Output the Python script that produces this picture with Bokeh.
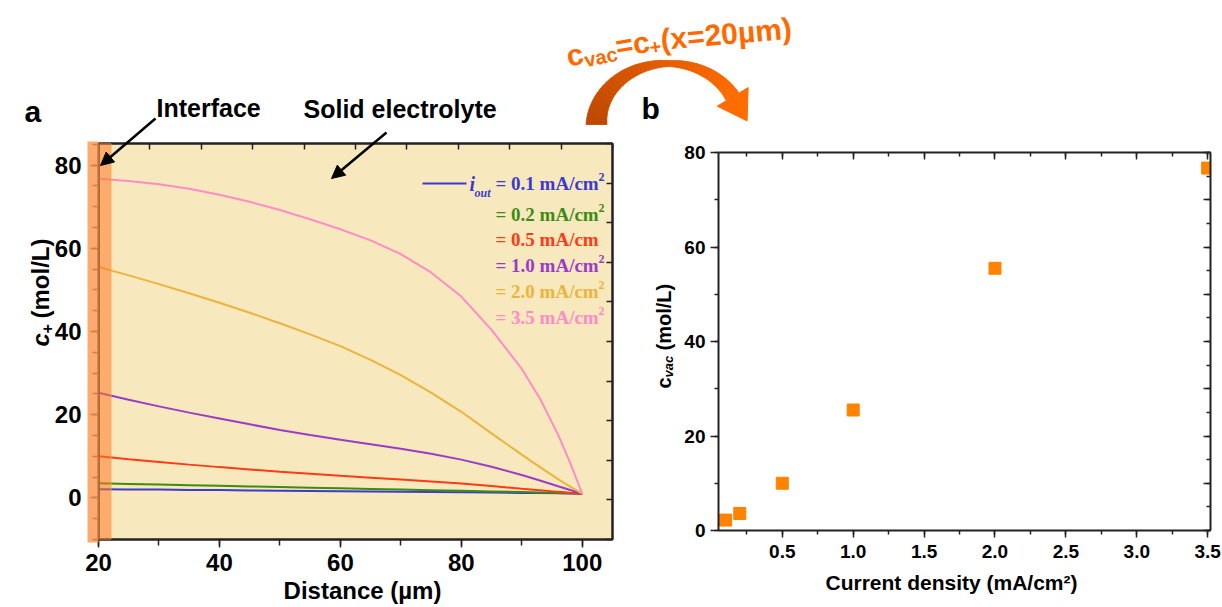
import numpy as np
from bokeh.plotting import figure
from bokeh.layouts import row, column
from bokeh.models import (Range1d, LinearAxis, SingleIntervalTicker, FixedTicker,
                          BoxAnnotation, Arrow, NormalHead, NumeralTickFormatter)
from bokeh.core.properties import value
from bokeh.embed import file_html
from bokeh.resources import INLINE

# ---------------- data ----------------
distance = [20, 25, 30, 35, 40, 45, 50, 55, 60, 65, 70, 75, 80, 85, 90, 93, 96, 98, 100]
c_i01 = [2.1, 2.05, 2.0, 1.93, 1.87, 1.8, 1.74, 1.68, 1.62, 1.56, 1.5, 1.43, 1.36, 1.28,
         1.2, 1.15, 1.09, 1.05, 1.0]
c_i02 = [3.5, 3.35, 3.2, 3.05, 2.9, 2.75, 2.6, 2.45, 2.3, 2.15, 2.0, 1.85, 1.7, 1.55,
         1.4, 1.3, 1.2, 1.1, 1.0]
c_i05 = [10.0, 9.3, 8.65, 8.0, 7.4, 6.85, 6.3, 5.8, 5.3, 4.85, 4.4, 3.95, 3.45, 2.85,
         2.2, 1.85, 1.45, 1.22, 1.0]
c_i10 = [25.3, 23.6, 22.0, 20.5, 19.1, 17.7, 16.3, 15.1, 14.0, 12.9, 11.8, 10.6, 9.2, 7.5,
         5.5, 4.2, 2.8, 1.9, 1.0]
c_i20 = [55.5, 53.5, 51.4, 49.2, 46.9, 44.5, 42.0, 39.3, 36.5, 33.2, 29.5, 25.3, 20.7, 15.5,
         10.4, 7.4, 4.5, 2.7, 1.0]
c_i35 = [76.7, 76.2, 75.4, 74.3, 72.9, 71.2, 69.2, 67.0, 64.6, 61.9, 58.6, 54.2, 48.4, 40.4,
         31.0, 23.9, 15.2, 8.4, 1.0]
series_values = [c_i01, c_i02, c_i05, c_i10, c_i20, c_i35]
series_colors = ["#3b3bd0", "#3c8c14", "#ff3a14", "#9a3cc8", "#ecb43c", "#ff8cc6"]
legend_texts = ["= 0.1 mA/cm", "= 0.2 mA/cm", "= 0.5 mA/cm", "= 1.0 mA/cm",
                "= 2.0 mA/cm", "= 3.5 mA/cm"]
legend_sup = ["2", "2", "", "2", "2", "2"]

current_density = [0.1, 0.2, 0.5, 1.0, 2.0, 3.5]
c_vac = [2.2, 3.6, 10.0, 25.5, 55.5, 76.7]

SANS_NAME = "Liberation Sans"
SANS = value(SANS_NAME)
SERIF = value("Liberation Serif")
AXC = "#222222"


def style_axis(ax, label_size, tick_out, minor_out, tick_in=0, minor_in=0, labels=True):
    ax.axis_line_color = AXC
    ax.axis_line_width = 2
    ax.major_tick_line_color = AXC
    ax.minor_tick_line_color = AXC
    ax.major_tick_line_width = 1.5
    ax.minor_tick_line_width = 1.5
    ax.major_tick_in = tick_in
    ax.major_tick_out = tick_out
    ax.minor_tick_in = minor_in
    ax.minor_tick_out = minor_out
    ax.axis_label = None
    if labels:
        ax.major_label_text_font = SANS_NAME
        ax.major_label_text_font_style = "bold"
        ax.major_label_text_font_size = f"{label_size}px"
        ax.major_label_text_color = "black"
    else:
        ax.major_label_text_color = None


# ---------------- panel a ----------------
p1 = figure(width=640, height=607, x_range=Range1d(20, 105), y_range=Range1d(-10, 85.2),
            output_backend="svg", toolbar_location=None,
            min_border_left=98, min_border_right=28, min_border_top=143, min_border_bottom=68,
            background_fill_color="#f8e8bd", border_fill_color="white",
            outline_line_color=AXC, outline_line_width=2)
p1.grid.visible = False

band = BoxAnnotation(left=20, right=22.05, fill_color="#ff7a2a", fill_alpha=0.55,
                     line_color="#f9a040", line_alpha=0.8, line_width=1)
p1.add_layout(band)

for vals, col in zip(series_values, series_colors):
    p1.line(distance, vals, line_color=col, line_width=2)

xa = p1.xaxis[0]
xa.ticker = SingleIntervalTicker(interval=20, num_minor_ticks=2)
style_axis(xa, 24, 8, 6)
xa.major_label_standoff = 6
ya = p1.yaxis[0]
ya.ticker = SingleIntervalTicker(interval=20, num_minor_ticks=4)
style_axis(ya, 24, 8, 6)
ya.major_label_standoff = 9

top_a = LinearAxis(ticker=FixedTicker(ticks=list(np.linspace(20, 105, 11))))
right_a = LinearAxis(ticker=FixedTicker(ticks=list(np.linspace(-10, 85.2, 11))))
for ax in (top_a, right_a):
    style_axis(ax, 0, 0, 0, tick_in=6, labels=False)
p1.add_layout(top_a, "above")
p1.add_layout(right_a, "right")

# ---------------- panel b ----------------
# same top/bottom borders as panel a (row aligns frames); vertical offset via margin
p2 = figure(width=582, height=589, x_range=Range1d(0.05, 3.52), y_range=Range1d(0, 80),
            output_backend="svg", toolbar_location=None,
            min_border_left=78, min_border_right=12, min_border_top=143, min_border_bottom=68,
            background_fill_color="white", border_fill_color="white", outline_line_color=None)
p2.margin = (9, 0, 0, 0)
p2.grid.visible = False
p2.scatter(current_density, c_vac, marker="square", size=12, fill_color="#ff8200",
           line_color="#ff8200")

xb = p2.xaxis[0]
xb.ticker = SingleIntervalTicker(interval=0.5, num_minor_ticks=2)
xb.formatter = NumeralTickFormatter(format="0.0")
style_axis(xb, 19, 7, 4)
xb.major_label_standoff = 7
yb = p2.yaxis[0]
yb.ticker = SingleIntervalTicker(interval=20, num_minor_ticks=2)
style_axis(yb, 19, 8, 4)
yb.major_label_standoff = 5

top_b = LinearAxis(ticker=SingleIntervalTicker(interval=0.5, num_minor_ticks=2))
right_b = LinearAxis(ticker=SingleIntervalTicker(interval=10, num_minor_ticks=2))
for ax in (top_b, right_b):
    style_axis(ax, 0, 0, 0, tick_in=7, minor_in=4, labels=False)
p2.add_layout(top_b, "above")
p2.add_layout(right_b, "right")

# ---------------- overlay (page-wide annotations, pixel coordinates) ----------------
p0 = figure(width=1222, height=607, x_range=Range1d(0, 1222), y_range=Range1d(607, 0),
            x_axis_type=None, y_axis_type=None, output_backend="svg", toolbar_location=None,
            min_border=0, background_fill_color=None, border_fill_color=None,
            outline_line_color=None)
p0.grid.visible = False
p0.margin = (-607, 0, 0, 0)


def txt(x, y, s, size, color="black", style="bold", font=SANS, align="left",
        baseline="middle", angle=0.0):
    p0.text(x=[x], y=[y], text=[s], text_font=font, text_font_style=style,
            text_font_size=f"{size}px", text_color=color, text_align=align,
            text_baseline=baseline, angle=angle)


# interface band continuing left of the axis
p0.quad(left=[87], right=[98], top=[141], bottom=[542], fill_color="#fb954c",
        fill_alpha=0.8, line_color=None)

# panel letters and annotations
txt(24, 111, "a", 30)
txt(641, 108, "b", 30)
txt(156, 107, "Interface", 25)
txt(303, 108, "Solid electrolyte", 25)
p0.add_layout(Arrow(end=NormalHead(size=13, fill_color="black", line_color="black"),
                    x_start=155, y_start=118, x_end=100, y_end=165,
                    line_color="black", line_width=2.5))
p0.add_layout(Arrow(end=NormalHead(size=13, fill_color="black", line_color="black"),
                    x_start=386, y_start=132, x_end=331, y_end=178,
                    line_color="black", line_width=2.5))

# axis titles
txt(362, 590, "Distance (µm)", 24, align="center")
txt(951, 582, "Current density (mA/cm²)", 21, align="center")

# y-axis title panel a: c+ (mol/L)
txt(40, 346, "c", 24, style="bold italic", angle=np.pi / 2)
txt(46, 333, "+", 16, angle=np.pi / 2)
txt(40, 318, "(mol/L)", 24, angle=np.pi / 2)

# y-axis title panel b: c_vac (mol/L)
txt(663, 388, "c", 20, angle=np.pi / 2)
txt(668, 377, "vac", 13, style="bold italic", angle=np.pi / 2)
txt(663, 350, "(mol/L)", 20, angle=np.pi / 2)

# legend of panel a
p0.line([422, 466], [183, 183], line_color=series_colors[0], line_width=2)
txt(469, 183, "i", 20, color=series_colors[0], style="bold italic", font=SERIF)
txt(474, 192, "out", 12, color=series_colors[0], style="bold italic", font=SERIF)
legend_y = [183, 214, 239, 265, 291, 317]
for ly, s, sup, col in zip(legend_y, legend_texts, legend_sup, series_colors):
    txt(495, ly, s, 19, color=col, font=SERIF)
    if sup:
        txt(598, ly - 7, sup, 12, color=col, font=SERIF)

# curved arrow between panels
cx, cy, rx, ry = 668.0, 124.0, 72.0, 61.0
th = np.linspace(np.pi, 0.47, 41)
thick = np.where(th > np.pi / 2, 6 + 15 * (th - np.pi / 2) / (np.pi / 2),
                 6 + 9 * (np.pi / 2 - th) / (np.pi / 2 - 0.47))
ox = cx + (rx + thick / 2) * np.cos(th)
oy = cy - (ry + thick / 2) * np.sin(th)
ix = cx + (rx - thick / 2) * np.cos(th)
iy = cy - (ry - thick / 2) * np.sin(th)
c0 = np.array([190, 72, 0])
c1 = np.array([255, 108, 0])
xs, ys, cols = [], [], []
for k in range(len(th) - 1):
    xs.append([ox[k], ox[k + 1], ix[k + 1], ix[k]])
    ys.append([oy[k], oy[k + 1], iy[k + 1], iy[k]])
    f = k / (len(th) - 2)
    c = (c0 * (1 - f) + c1 * f).astype(int)
    cols.append("#%02x%02x%02x" % tuple(c))
p0.patches(xs, ys, fill_color=cols, line_color=cols, line_width=0.8)
ex, ey = cx + rx * np.cos(th[-1]), cy - ry * np.sin(th[-1])
tx, ty = rx * np.sin(th[-1]), ry * np.cos(th[-1])
nrm = np.hypot(tx, ty)
tx, ty = tx / nrm, ty / nrm
px, py = ty, -tx
p0.patch([ex + 18 * px, ex - 18 * px, ex + 28 * tx],
         [ey + 18 * py, ey - 18 * py, ey + 28 * ty],
         fill_color="#ff6c00", line_color="#ff6c00")

# formula above the arrow
OR = "#ff6a00"
txt(566, 56, "c", 30, color=OR, baseline="alphabetic", angle=np.radians(12))
txt(584, 60, "vac", 20, color=OR, baseline="alphabetic", angle=np.radians(12))
txt(615, 46, "=c", 30, color=OR, baseline="alphabetic", angle=np.radians(9))
txt(649, 47, "+", 20, color=OR, baseline="alphabetic", angle=np.radians(8))
txt(660, 39, "(x=20µm)", 30, color=OR, baseline="alphabetic", angle=np.radians(5))

layout = column(row(p1, p2), p0)
open("out.html", "w").write(file_html(layout, INLINE))
